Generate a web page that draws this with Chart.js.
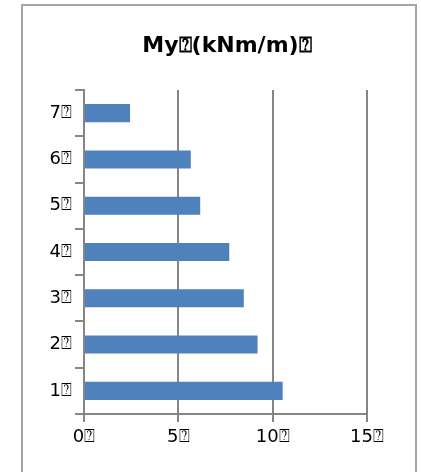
<!DOCTYPE html>
<html>
<head>
<meta charset="utf-8">
<script src="https://cdn.jsdelivr.net/npm/chart.js@4"></script>
<style>
  html, body { margin: 0; padding: 0; background: #fff; overflow: hidden; }
  #frame { position: absolute; left: 21px; top: 4px; width: 392px; height: 500px; border: 2px solid #a5a5a5; }
  #wrap { position: absolute; left: 0; top: 0; width: 421px; height: 472px; }
</style>
</head>
<body>
<div id="frame"></div>
<div id="wrap"><canvas id="graph"></canvas></div>
<script>
var g_title = "My\u2370(kNm/m)\u2370";
var g_categories = ["1\u2370", "2\u2370", "3\u2370", "4\u2370", "5\u2370", "6\u2370", "7\u2370"];
var g_values = [10.53, 9.2, 8.47, 7.7, 6.16, 5.66, 2.44];
var g_xTicks = [0, 5, 10, 15];
var g_barBlue = "#4f81bd";
var g_lineGray = "#868686";

// title drawn off-centre like the original
var titlePlugin = {
    id: "offTitle",
    afterDraw: function (chart) {
        var ctx = chart.ctx;
        ctx.save();
        ctx.font = "bold 22px 'DejaVu Sans'";
        ctx.fillStyle = "#000";
        ctx.textAlign = "center";
        ctx.textBaseline = "middle";
        ctx.fillText(g_title, 227, 46);
        ctx.restore();
    }
};

var ctx = document.getElementById("graph").getContext("2d");
var g_chart = new Chart(ctx, {
    type: "bar",
    data: {
        labels: g_categories,
        datasets: [{
            data: g_values,
            backgroundColor: g_barBlue,
            borderWidth: 0,
            categoryPercentage: 1,
            barPercentage: 0.39
        }]
    },
    options: {
        indexAxis: "y",
        responsive: true,
        maintainAspectRatio: false,
        animation: false,
        layout: { padding: { top: 90, right: 54, left: 0, bottom: 0 } },
        plugins: { legend: { display: false }, title: { display: false }, tooltip: { enabled: false } },
        scales: {
            x: {
                min: 0,
                max: 15,
                afterBuildTicks: function (scale) {
                    scale.ticks = g_xTicks.map(function (v) { return { value: v }; });
                },
                afterFit: function (scale) { scale.height = 58; },
                grid: { color: g_lineGray, lineWidth: 2, tickLength: 8, drawTicks: true },
                border: { display: true, color: g_lineGray, width: 2 },
                ticks: {
                    color: "#000",
                    font: { family: "'DejaVu Sans'", size: 18 },
                    padding: 5,
                    callback: function (v) { return v + "\u2370"; }
                }
            },
            y: {
                reverse: true,
                afterFit: function (scale) { scale.width = 84; },
                grid: { drawOnChartArea: false, color: g_lineGray, lineWidth: 2, tickLength: 9, offset: true },
                border: { display: true, color: g_lineGray, width: 2 },
                ticks: {
                    color: "#000",
                    font: { family: "'DejaVu Sans'", size: 18 },
                    padding: 3
                }
            }
        }
    },
    plugins: [titlePlugin]
});
</script>
</body>
</html>
